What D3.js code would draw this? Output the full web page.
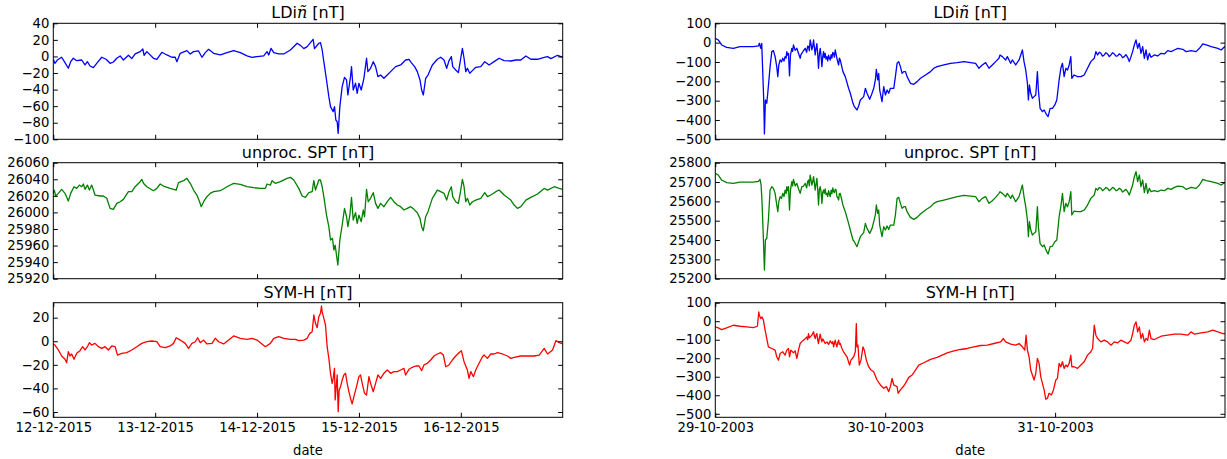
<!DOCTYPE html>
<html>
<head>
<meta charset="utf-8">
<script src="https://cdn.jsdelivr.net/npm/d3@7"></script>
<style>
  body { margin: 0; background: #fff; }
  svg { display: block; }
  text { font-family: "DejaVu Sans", sans-serif; fill: #000; }
</style>
</head>
<body>
<svg id="chart" width="1227" height="459"></svg>
<script>
// ---- Time windows (storm periods) ----
const start2015 = Date.UTC(2015, 11, 12);
const start2003 = Date.UTC(2003, 9, 29);
const days2015 = 5;
const days2003 = 3;

// ---- Panel titles ----
const titleLdi = "LDi";
const titleSpt = "unproc. SPT [nT]";
const titleSym = "SYM-H [nT]";
const xLabel = "date";

// ---- Y ranges and tick values ----
const yRangeLdi2015 = [-100, 40];
const yRangeSpt2015 = [25920, 26060];
const yRangeSym2015 = [-64.5, 32.7];
const yRangeLdi2003 = [-500, 100];
const yRangeSpt2003 = [25200, 25800];
const yRangeSym2003 = [-519, 100];

const yTicksLdi2015 = [-100, -80, -60, -40, -20, 0, 20, 40];
const yTicksSpt2015 = [25920, 25940, 25960, 25980, 26000, 26020, 26040, 26060];
const yTicksSym2015 = [-60, -40, -20, 0, 20];
const yTicksLdi2003 = [-500, -400, -300, -200, -100, 0, 100];
const yTicksSpt2003 = [25200, 25300, 25400, 25500, 25600, 25700, 25800];
const yTicksSym2003 = [-500, -400, -300, -200, -100, 0, 100];

// ---- Series: [hours since window start, nT] ----
const ldi2015 = [[0,-3.4],[0.39,-8.3],[0.94,-4.3],[1.97,-1.0],[2.75,-7.5],[3.54,-14.3],[4.1,-6.3],[4.72,-2.2],[5.51,-5.1],[6.69,-4.3],[7.47,-10.3],[8.03,-6.3],[8.65,-11.5],[9.44,-13.5],[10.23,-8.3],[11.41,-1.0],[12.43,-3.4],[13.38,-8.3],[14.16,-6.7],[14.95,-2.2],[15.74,0.6],[16.52,-4.3],[17.7,1.4],[18.49,-2.6],[19.28,3.0],[20.46,5.8],[21.09,9.0],[21.4,1.4],[22.03,5.8],[23.6,-2.2],[24.39,-3.4],[25.57,5.0],[26.75,1.8],[27.93,-1.0],[28.72,-1.0],[29.11,-6.3],[29.9,3.8],[31.47,7.0],[32.26,3.0],[33.04,5.8],[34.22,6.6],[35.01,-1.0],[35.8,4.6],[36.59,8.6],[37.77,3.8],[39.34,1.8],[40.91,4.6],[42.49,7.0],[44.06,4.6],[45.63,0.6],[46.81,-1.0],[47.99,-0.2],[49.57,0.6],[50.35,5.8],[50.75,1.8],[51.3,9.8],[51.93,4.6],[53.11,3.0],[54.29,3.0],[55.86,7.8],[57.44,15.9],[58.22,13.4],[59.01,9.4],[59.8,11.8],[61.21,20.7],[61.53,9.4],[62.55,15.9],[62.94,16.7],[63.33,7.8],[63.73,-6.3],[64.36,-28.4],[64.91,-48.5],[65.3,-60.6],[65.93,-66.6],[66.24,-60.6],[66.56,-76.7],[66.87,-78.7],[67.11,-92.8],[67.5,-60.6],[68.05,-36.4],[68.6,-25.2],[69.08,-28.4],[69.39,-46.5],[70.02,-24.4],[70.25,-12.3],[70.65,-40.5],[71.2,-32.4],[71.59,-44.5],[71.99,-32.4],[72.54,-40.5],[73.17,-26.4],[73.79,-2.2],[74.11,-18.3],[74.74,-14.3],[75.37,-6.3],[75.92,-12.3],[76.47,-24.4],[77.1,-22.4],[77.88,-26.4],[78.67,-22.4],[79.46,-18.3],[80.64,-12.3],[81.82,-10.3],[83.0,-4.3],[83.78,-3.4],[84.33,-7.5],[85.12,-12.3],[85.75,-18.3],[86.38,-28.4],[86.77,-40.5],[87.17,-46.5],[87.72,-26.4],[88.27,-22.4],[89.29,-10.3],[90.47,-3.4],[91.26,-1.0],[92.04,-4.3],[92.67,-14.3],[93.22,-5.1],[93.77,-0.2],[94.09,-12.3],[94.8,-16.3],[95.43,-19.5],[95.98,-2.2],[96.37,9.8],[96.76,-2.2],[97.16,-18.3],[97.55,-14.3],[98.1,-20.3],[98.73,-17.1],[99.52,-13.1],[100.7,-12.3],[101.64,-6.3],[102.66,-10.3],[103.84,-6.3],[105.02,-2.2],[106.2,-5.1],[107.78,-5.5],[108.96,-4.3],[110.14,-4.3],[111.32,0.6],[112.5,-3.4],[114.07,-3.4],[115.64,-1.0],[116.43,-0.2],[117.22,-2.6],[118.79,1.4],[119.58,-0.2],[120,-1.0]];

const spt2015 = [[0,26023.0],[0.24,26027.0],[0.55,26019.8],[1.18,26023.0],[1.97,26027.8],[2.75,26023.0],[3.54,26013.7],[4.09,26023.0],[4.88,26031.0],[5.51,26029.0],[6.14,26033.0],[6.69,26031.0],[7.08,26034.3],[7.47,26027.8],[8.03,26033.0],[8.5,26027.0],[9.05,26033.0],[9.83,26021.0],[11.02,26019.8],[11.8,26019.8],[12.59,26017.0],[13.38,26004.9],[14.16,26003.7],[14.95,26010.9],[15.74,26012.9],[16.52,26015.7],[16.92,26019.0],[17.7,26025.0],[18.49,26025.0],[19.28,26031.0],[20.46,26037.1],[20.85,26039.9],[21.24,26035.1],[22.03,26031.0],[23.6,26026.2],[24.39,26029.0],[25.18,26034.3],[25.96,26031.8],[27.54,26029.0],[28.95,26027.0],[29.5,26035.9],[30.68,26038.3],[31.47,26041.1],[32.26,26035.1],[33.04,26027.0],[33.83,26021.0],[34.46,26012.9],[34.85,26006.9],[35.41,26012.9],[36.19,26019.0],[36.98,26023.0],[37.77,26025.0],[39.34,26026.2],[40.91,26031.0],[42.49,26035.1],[44.06,26033.9],[45.63,26031.0],[47.21,26029.8],[48.78,26029.0],[49.96,26029.0],[50.35,26034.3],[51.14,26033.0],[51.53,26038.3],[52.32,26035.1],[53.5,26037.1],[55.07,26041.1],[55.86,26042.3],[56.65,26039.1],[57.83,26029.0],[58.62,26019.8],[59.4,26018.2],[60.19,26023.8],[60.98,26025.0],[61.37,26038.3],[61.76,26027.0],[62.55,26039.1],[62.94,26039.1],[63.33,26031.0],[63.73,26019.0],[64.36,25996.8],[64.91,25982.8],[65.3,25966.7],[65.77,25968.7],[66.09,25954.6],[66.4,25960.6],[66.71,25948.6],[67.03,25936.5],[67.5,25966.7],[68.05,25984.8],[68.6,26004.9],[69.08,25994.8],[69.39,25982.8],[69.86,25996.8],[70.25,26018.2],[70.65,25990.8],[71.2,25999.7],[71.59,25986.8],[71.99,25996.8],[72.54,25988.8],[73.01,26002.9],[73.32,25994.8],[73.79,26027.8],[74.19,26012.9],[74.74,26017.0],[75.37,26023.8],[75.92,26010.9],[76.47,26004.9],[77.1,26010.9],[77.88,26006.9],[78.67,26012.9],[79.46,26018.2],[80.24,26012.9],[81.03,26008.9],[81.82,26006.9],[82.6,26002.9],[83.39,26004.9],[84.18,26006.9],[84.96,26003.7],[85.75,25999.7],[86.38,25992.8],[86.77,25982.8],[87.17,25977.9],[87.72,25994.8],[88.27,26000.9],[89.29,26017.0],[90.47,26027.0],[91.26,26025.0],[92.04,26023.0],[92.67,26014.9],[93.22,26025.0],[93.77,26031.0],[94.09,26019.0],[94.8,26012.9],[95.43,26010.9],[95.98,26027.0],[96.37,26039.9],[96.76,26031.0],[97.16,26012.9],[97.55,26017.0],[98.1,26008.9],[98.73,26012.9],[99.52,26014.9],[100.7,26017.0],[101.64,26023.8],[102.27,26019.0],[103.06,26021.0],[104.24,26025.0],[105.02,26027.0],[106.2,26021.0],[107.78,26014.9],[108.56,26008.9],[109.35,26004.9],[110.14,26006.9],[111.32,26014.9],[112.5,26018.2],[114.07,26022.2],[115.64,26029.0],[116.43,26027.0],[118.0,26031.0],[119.18,26029.0],[120,26027.8]];

const symh2015 = [[0,-2.3],[0.39,-3.2],[1.18,-7.4],[1.97,-12.5],[2.75,-15.3],[3.15,-18.2],[3.54,-8.8],[3.93,-12.5],[4.33,-10.8],[4.88,-15.3],[5.51,-10.2],[6.29,-8.0],[6.92,-4.6],[7.47,-7.4],[8.03,-4.6],[8.5,-1.2],[9.05,-3.2],[9.83,-1.8],[10.62,-4.6],[11.41,-6.0],[12.2,-4.6],[12.98,-7.4],[13.77,-4.0],[14.56,-4.6],[15.11,-11.7],[16.13,-10.2],[17.31,-9.7],[18.49,-7.4],[19.67,-4.6],[20.85,-1.8],[22.03,-0.4],[23.21,0.2],[24.39,-0.4],[25.18,-4.6],[26.36,-5.4],[27.54,-4.0],[28.32,-1.8],[28.95,3.0],[29.9,1.0],[31.07,-1.8],[31.86,-6.0],[32.65,-1.8],[33.44,-0.4],[33.99,3.0],[34.62,-1.2],[35.41,1.0],[36.19,-2.3],[37.37,-1.8],[38.16,2.5],[38.95,-0.4],[40.13,-2.3],[41.31,1.0],[42.49,4.5],[44.06,2.5],[45.63,1.6],[46.81,2.5],[47.99,1.0],[48.78,-1.2],[49.96,-4.6],[51.14,-1.8],[51.93,2.5],[53.11,3.9],[54.29,2.5],[55.86,1.6],[57.04,1.6],[57.83,0.5],[59.01,1.0],[59.8,2.5],[60.42,6.7],[60.98,8.1],[61.37,22.3],[61.76,15.2],[62.16,11.5],[62.55,20.8],[62.94,23.7],[63.18,29.9],[63.33,25.1],[63.73,19.4],[64.12,13.8],[64.51,-4.6],[64.91,-14.5],[65.3,-27.2],[65.69,-35.7],[65.93,-31.5],[66.24,-23.0],[66.4,-49.8],[66.64,-38.5],[66.87,-28.6],[67.11,-59.7],[67.34,-41.3],[67.66,-38.5],[68.05,-32.9],[68.45,-28.6],[68.84,-27.2],[69.23,-35.7],[69.63,-42.8],[70.02,-48.4],[70.41,-53.2],[70.81,-47.0],[71.43,-38.5],[71.99,-30.0],[72.38,-28.6],[72.77,-35.7],[73.32,-44.2],[73.79,-45.6],[74.35,-30.0],[74.74,-35.7],[75.37,-42.8],[75.92,-35.7],[76.47,-28.6],[77.1,-31.5],[77.88,-27.2],[78.67,-24.4],[79.46,-27.2],[80.24,-25.8],[81.03,-25.8],[81.82,-24.4],[82.6,-23.0],[83.0,-28.6],[83.78,-23.8],[84.57,-22.1],[85.36,-21.0],[86.14,-21.0],[86.77,-24.9],[87.32,-20.1],[88.11,-18.7],[88.9,-15.9],[89.68,-12.5],[90.47,-10.8],[91.26,-9.7],[91.89,-11.7],[92.44,-21.6],[93.22,-20.1],[94.01,-15.9],[94.8,-12.5],[95.58,-9.7],[96.13,-8.0],[96.76,-17.3],[97.55,-24.4],[97.94,-31.5],[98.34,-25.8],[98.97,-30.0],[99.52,-24.4],[100.3,-18.7],[101.09,-13.1],[101.48,-11.7],[102.27,-14.5],[103.06,-10.8],[103.84,-10.8],[104.63,-9.7],[105.81,-10.8],[106.99,-12.5],[107.78,-14.5],[108.56,-13.6],[110.14,-12.5],[111.71,-12.5],[113.28,-12.5],[114.46,-11.7],[115.64,-6.0],[116.43,-10.8],[117.61,-7.4],[118.4,0.5],[119.18,-1.2],[120,-2.3]];

const ldi2003 = [[0,22.4],[0.42,13.8],[0.9,-12.1],[1.6,-24.1],[2.55,-29.3],[3.49,-20.7],[4.44,-20.7],[5.38,-20.7],[6.09,-17.2],[6.23,-3.4],[6.42,-29.3],[6.56,-3.4],[6.7,-150],[6.84,-296.5],[6.94,-472.4],[7.08,-296.5],[7.27,-313.8],[7.41,-262],[7.74,-124.1],[7.98,-46.5],[8.21,-41.4],[8.45,-72.4],[8.68,-124.1],[8.83,-175.8],[8.97,-115.5],[9.16,-89.6],[9.35,-100],[9.53,-81],[9.7,-95],[9.86,-72.4],[10.0,-80],[10.1,-46.5],[10.22,-65],[10.34,-55.2],[10.48,-172.4],[10.62,-63.8],[10.81,-29.3],[10.92,-45],[11.04,-12.1],[11.28,-40],[11.52,-29.3],[11.75,-55],[11.99,-81],[12.1,-62],[12.22,-55.2],[12.45,-42],[12.7,-29.3],[12.9,-50],[13.05,-18],[13.17,-20.7],[13.28,-42],[13.4,13.8],[13.52,-8],[13.64,-37.9],[13.76,-20],[13.88,13.8],[14.0,-25],[14.11,-63.8],[14.23,-30],[14.35,-4.8],[14.46,-55],[14.58,-132.7],[14.7,-60],[14.82,-29.3],[14.94,-70],[15.06,-124.1],[15.17,-75],[15.29,-46.5],[15.4,-78],[15.52,-55],[15.64,-85],[15.76,-72.4],[15.88,-95],[16.0,-65],[16.12,-82],[16.24,-89.6],[16.36,-62],[16.47,-80],[16.6,-50],[16.71,-55.2],[16.82,-75],[16.94,-37.9],[17.06,-60],[17.18,-81],[17.3,-100],[17.42,-115.5],[17.53,-80],[17.65,-89.6],[18.03,-150],[18.36,-175.8],[18.83,-236.2],[19.07,-262],[19.45,-313.8],[19.64,-331],[20.01,-348.2],[20.25,-327.6],[20.49,-296.5],[20.96,-279.3],[21.2,-236.2],[21.43,-262],[21.81,-293.1],[22.14,-262],[22.38,-236.2],[22.61,-193.1],[22.75,-137.9],[22.94,-193.1],[23.08,-158.6],[23.22,-244.8],[23.55,-305.1],[23.79,-227.6],[24.03,-270.7],[24.26,-244.8],[24.5,-262],[24.73,-236.2],[25.21,-236.2],[25.44,-175.8],[25.68,-106.9],[25.91,-98.3],[26.15,-124.1],[26.39,-158.6],[26.62,-150],[26.86,-150],[27.09,-175.8],[27.56,-210.3],[28.04,-215.5],[28.51,-201.7],[28.98,-184.5],[29.69,-167.2],[30.4,-150],[30.87,-132.7],[31.34,-124.1],[32.29,-115.5],[33.23,-106.9],[34.17,-103.4],[35.12,-98.3],[36.06,-103.4],[36.77,-106.9],[37.24,-132.7],[37.71,-115.5],[38.19,-103.4],[38.66,-132.7],[39.13,-115.5],[39.6,-98.3],[40.07,-81],[40.22,-63.8],[40.55,-72.4],[41.02,-89.6],[41.25,-72.4],[41.73,-106.9],[41.96,-89.6],[42.43,-115.5],[42.91,-89.6],[43.38,-37.9],[43.61,-98.3],[43.85,-141.4],[44.09,-210.3],[44.23,-296.5],[44.37,-219],[44.56,-262],[44.79,-287.9],[45.03,-279.3],[45.27,-270.7],[45.5,-150],[45.64,-244.8],[45.88,-339.6],[46.21,-356.9],[46.45,-348.2],[46.82,-374.1],[47.01,-382.7],[47.3,-339.6],[47.63,-339.6],[47.96,-322.4],[48.24,-296.5],[48.57,-193.1],[48.81,-132.7],[49.04,-106.9],[49.28,-175.8],[49.51,-132.7],[49.75,-141.4],[49.99,-115.5],[50.22,-72.4],[50.36,-184.5],[50.69,-167.2],[51.17,-175.8],[51.64,-175.8],[52.11,-167.2],[52.58,-132.7],[53.05,-98.3],[53.53,-81],[53.76,-46.5],[54.0,-63.8],[54.24,-50],[54.47,-55.2],[54.7,-70],[54.94,-63.8],[55.18,-52],[55.41,-58.6],[55.65,-72],[55.89,-63.8],[56.12,-52],[56.36,-58.6],[56.6,-70],[56.83,-69],[57.06,-58],[57.3,-63.8],[57.53,-78],[57.77,-72.4],[58.0,-62],[58.25,-75.8],[58.48,-98.3],[58.72,-72.4],[58.95,-46.5],[59.19,-12.1],[59.43,13.8],[59.66,-29.3],[59.9,-3.4],[60.13,-55.2],[60.37,-20.7],[60.61,-81],[60.84,-37.9],[61.08,-89.6],[61.31,-55.2],[61.55,-75.8],[62.02,-63.8],[62.49,-69],[62.97,-55.2],[63.44,-58.6],[63.91,-41.4],[64.38,-46.5],[64.85,-37.9],[65.33,-29.3],[66.03,-34.5],[66.51,-46.5],[67.21,-41.4],[67.92,-46.5],[68.39,-29.3],[68.87,-6.9],[69.34,-12.1],[70.05,-20.7],[70.99,-29.3],[71.46,-37.9],[71.94,-20.7],[72.17,-24.1]];

const spt2003 = [[0,25744.8],[0.42,25736.2],[0.9,25710.4],[1.6,25696.6],[2.55,25693.1],[3.49,25700],[4.44,25700],[5.38,25700],[6.09,25703.5],[6.32,25713.8],[6.47,25684.5],[6.61,25589.7],[6.8,25400],[6.94,25244.9],[7.08,25400],[7.27,25408.6],[7.5,25503.5],[7.74,25658.6],[7.98,25675.9],[8.21,25667.3],[8.45,25641.4],[8.68,25581.1],[8.83,25546.6],[8.97,25598.3],[9.16,25624.2],[9.35,25615],[9.53,25641.4],[9.7,25625],[9.86,25658.6],[10.0,25640],[10.1,25675.9],[10.22,25655],[10.34,25675.9],[10.48,25555.2],[10.62,25658.6],[10.81,25701.7],[10.92,25680],[11.04,25713.8],[11.28,25680],[11.52,25693.1],[11.75,25665],[11.99,25641.4],[12.1,25658],[12.22,25675.9],[12.45,25678],[12.7,25693.1],[12.9,25670],[13.05,25702],[13.17,25710.4],[13.28,25680],[13.4,25736.2],[13.52,25712],[13.64,25684.5],[13.76,25700],[13.88,25727.6],[14.0,25695],[14.11,25658.6],[14.23,25690],[14.35,25719],[14.46,25665],[14.58,25581.1],[14.7,25660],[14.82,25675.9],[14.94,25650],[15.06,25589.7],[15.17,25645],[15.29,25658.6],[15.4,25642],[15.52,25665],[15.64,25635],[15.76,25641.4],[15.88,25625],[16.0,25655],[16.12,25638],[16.24,25624.2],[16.36,25658],[16.47,25640],[16.6,25670],[16.71,25650],[16.82,25645],[16.94,25662.1],[17.06,25660],[17.18,25624.2],[17.3,25620],[17.42,25606.9],[17.53,25640],[17.65,25641.4],[18.03,25581.1],[18.36,25546.6],[18.83,25486.2],[19.07,25451.8],[19.45,25400],[19.64,25391.4],[20.01,25365.6],[20.25,25391.4],[20.49,25417.3],[20.96,25438],[21.2,25486.2],[21.43,25460.4],[21.81,25434.5],[22.14,25460.4],[22.38,25494.9],[22.61,25529.3],[22.75,25581.1],[22.94,25537.9],[23.08,25555.2],[23.22,25477.6],[23.55,25417.3],[23.79,25469],[24.03,25451.8],[24.26,25472.4],[24.5,25455.2],[24.73,25477.6],[25.21,25477.6],[25.44,25529.3],[25.68,25615.5],[25.91,25620.7],[26.15,25589.7],[26.39,25563.8],[26.62,25572.4],[26.86,25572.4],[27.09,25546.6],[27.56,25517.3],[28.04,25506.9],[28.51,25517.3],[28.98,25534.5],[29.69,25555.2],[30.4,25572.4],[30.87,25589.7],[31.34,25598.3],[32.29,25606.9],[33.23,25615.5],[34.17,25624.2],[35.12,25631.0],[36.06,25627.6],[36.77,25624.2],[37.24,25598.3],[37.71,25615.5],[38.19,25624.2],[38.66,25589.7],[39.13,25603.5],[39.6,25620.7],[40.07,25641.4],[40.22,25650],[40.55,25641.4],[41.02,25624.2],[41.25,25641.4],[41.73,25615.5],[41.96,25632.8],[42.43,25598.3],[42.91,25624.2],[43.38,25684.5],[43.61,25624.2],[43.85,25572.4],[44.09,25503.5],[44.23,25417.3],[44.37,25494.9],[44.56,25451.8],[44.79,25425.9],[45.03,25434.5],[45.27,25443.1],[45.5,25572.4],[45.64,25469],[45.88,25382.8],[46.21,25365.6],[46.45,25374.2],[46.82,25339.7],[47.01,25327.6],[47.3,25365.6],[47.63,25369],[47.96,25391.4],[48.24,25400],[48.57,25520.7],[48.81,25572.4],[49.04,25641.4],[49.28,25546.6],[49.51,25589.7],[49.75,25572.4],[49.99,25598.3],[50.22,25650],[50.36,25529.3],[50.69,25550],[51.17,25546.6],[51.64,25546.6],[52.11,25555.2],[52.58,25581.1],[53.05,25615.5],[53.53,25632.8],[53.76,25667.3],[54.0,25658.6],[54.24,25672],[54.47,25667.3],[54.7,25655],[54.94,25662.1],[55.18,25672],[55.41,25667.3],[55.65,25655],[55.89,25662.1],[56.12,25672],[56.36,25667.3],[56.6,25655],[56.83,25658.6],[57.06,25668],[57.3,25662.1],[57.53,25648],[57.77,25655.2],[58.0,25662],[58.25,25650],[58.48,25632.8],[58.72,25658.6],[58.95,25684.5],[59.19,25727.6],[59.43,25753.5],[59.66,25701.7],[59.9,25736.2],[60.13,25675.9],[60.37,25710.4],[60.61,25644.8],[60.84,25693.1],[61.08,25641.4],[61.31,25667.3],[61.55,25650],[62.02,25655.2],[62.49,25650],[62.97,25658.6],[63.44,25655.2],[63.91,25667.3],[64.38,25662.1],[64.85,25672.4],[65.33,25679.3],[66.03,25675.9],[66.51,25662.1],[67.21,25672.4],[67.92,25667.3],[68.39,25684.5],[68.87,25713.8],[69.34,25706.9],[70.05,25701.7],[70.99,25693.1],[71.46,25684.5],[71.94,25696.6],[72.17,25693.1]];

const symh2003 = [[0,-30.8],[0.42,-36.2],[0.9,-45.2],[1.6,-36.2],[2.55,-21.9],[3.49,-27.2],[4.44,-30.8],[5.38,-34.4],[5.95,-27.2],[6.14,49.8],[6.23,31.9],[6.42,14.0],[6.61,22.9],[6.8,5.0],[7.04,-48.7],[7.27,-93.5],[7.5,-138.3],[7.98,-147.3],[8.45,-156.3],[8.68,-192.1],[8.92,-210],[9.16,-174.2],[9.53,-165.2],[9.86,-183.1],[10.1,-156.3],[10.34,-147.3],[10.48,-192.1],[10.67,-156.3],[11.04,-170.6],[11.28,-159.8],[11.52,-201.1],[11.75,-156.3],[11.99,-120.4],[12.22,-110],[12.46,-102.5],[12.7,-95],[12.93,-84.6],[13.05,-100],[13.17,-66.7],[13.28,-90],[13.4,-84.6],[13.64,-75],[13.88,-57.7],[14.0,-80],[14.11,-93.5],[14.23,-75],[14.35,-66.7],[14.46,-100],[14.58,-120.4],[14.7,-90],[14.82,-70.2],[14.94,-95],[15.06,-111.5],[15.17,-95],[15.29,-102.5],[15.52,-120],[15.76,-111.5],[16.0,-125],[16.24,-106.1],[16.47,-120.4],[16.6,-110],[16.71,-138.3],[16.82,-120],[16.94,-102.5],[17.06,-125],[17.18,-138.3],[17.3,-115],[17.42,-102.5],[17.53,-125],[17.65,-120.4],[17.89,-147.3],[18.12,-165.2],[18.6,-192.1],[18.97,-236.9],[19.16,-210],[19.54,-192.1],[19.78,-165.2],[19.92,-12.9],[20.01,-138.3],[20.15,-129.4],[20.34,-236.9],[20.58,-210],[20.86,-138.3],[21.05,-156.3],[21.33,-210],[21.66,-245.9],[21.99,-263.8],[22.37,-272.7],[22.85,-317.5],[23.32,-344.4],[23.79,-362.3],[24.17,-353.4],[24.5,-380.3],[24.73,-353.4],[24.97,-308.6],[25.21,-344.4],[25.68,-353.4],[25.82,-389.2],[26.15,-371.3],[26.62,-349.8],[26.86,-335.5],[27.33,-303.2],[27.8,-290.7],[28.27,-263.8],[28.74,-236.9],[29.45,-224.4],[30.4,-206.4],[31.34,-195.7],[32.05,-183.1],[32.76,-170.6],[33.7,-159.8],[34.65,-152.7],[35.59,-147.3],[36.53,-138.3],[37.48,-131.2],[38.42,-129.4],[39.37,-120.4],[40.31,-111.5],[40.69,-93.5],[41.02,-111.5],[41.73,-124],[42.43,-129.4],[42.91,-120.4],[43.38,-138.3],[43.71,-156.3],[43.9,-75.6],[44.09,-156.3],[44.32,-192.1],[44.56,-263.8],[44.79,-290.7],[45.03,-317.5],[45.27,-281.7],[45.5,-201.1],[45.74,-227.9],[45.97,-299.6],[46.21,-335.5],[46.45,-371.3],[46.68,-421.5],[46.92,-416.1],[47.15,-389.2],[47.48,-398.2],[47.77,-371.3],[48.1,-317.5],[48.33,-308.6],[48.57,-227.9],[48.81,-245.9],[49.04,-219],[49.28,-254.8],[49.51,-236.9],[49.75,-245.9],[49.99,-227.9],[50.22,-183.1],[50.36,-245.9],[50.69,-245.9],[51.17,-254.8],[51.64,-236.9],[52.11,-219],[52.58,-183.1],[53.05,-165.2],[53.29,-147.3],[53.53,-21.9],[53.76,-75.6],[54.0,-93.5],[54.47,-111.5],[54.94,-102.5],[55.41,-111.5],[55.89,-129.4],[56.36,-111.5],[56.83,-116.8],[57.3,-102.5],[57.77,-111.5],[58.25,-120.4],[58.72,-102.5],[58.95,-66.7],[59.19,-21.9],[59.43,-3.9],[59.66,-57.7],[59.9,-30.8],[60.13,-93.5],[60.37,-66.7],[60.61,-111.5],[60.84,-93.5],[61.08,-102.5],[61.31,-48.7],[61.55,-93.5],[62.02,-98.9],[62.97,-81],[63.91,-75.6],[64.85,-70.2],[65.8,-70.2],[66.74,-75.6],[67.21,-57.7],[67.69,-70.2],[68.63,-63.1],[69.57,-57.7],[70.28,-48.7],[70.99,-57.7],[71.69,-66.7],[72.17,-66.7]];

// ---- Layout ----
const svg = d3.select("#chart");
const columns = [
  { left: 53.3, width: 509.4, start: start2015, days: days2015 },
  { left: 715.3, width: 509.7, start: start2003, days: days2003 }
];
const rows = [
  { top: 23.3, height: 116 },
  { top: 162.7, height: 116 },
  { top: 302.7, height: 114.6 }
];
const tickLen = 4.5;
const HOUR = 3600 * 1000;

const panels = [
  { col: 0, row: 0, data: ldi2015, range: yRangeLdi2015, ticks: yTicksLdi2015, color: "#0000ff", title: "ldi" },
  { col: 0, row: 1, data: spt2015, range: yRangeSpt2015, ticks: yTicksSpt2015, color: "#008000", title: titleSpt },
  { col: 0, row: 2, data: symh2015, range: yRangeSym2015, ticks: yTicksSym2015, color: "#ff0000", title: titleSym },
  { col: 1, row: 0, data: ldi2003, range: yRangeLdi2003, ticks: yTicksLdi2003, color: "#0000ff", title: "ldi" },
  { col: 1, row: 1, data: spt2003, range: yRangeSpt2003, ticks: yTicksSpt2003, color: "#008000", title: titleSpt },
  { col: 1, row: 2, data: symh2003, range: yRangeSym2003, ticks: yTicksSym2003, color: "#ff0000", title: titleSym }
];

const fmtDate = d3.utcFormat("%d-%m-%Y");

panels.forEach((p, i) => {
  const c = columns[p.col], r = rows[p.row];
  const g = svg.append("g").attr("transform", `translate(${c.left},${r.top})`);
  const x = d3.scaleUtc()
    .domain([new Date(c.start), new Date(c.start + c.days * 24 * HOUR)])
    .range([0, c.width]);
  const y = d3.scaleLinear().domain(p.range).range([r.height, 0]);
  const dayTicks = d3.range(c.days).map(k => new Date(c.start + k * 24 * HOUR));

  const clipId = "clip" + i;
  g.append("clipPath").attr("id", clipId)
    .append("rect").attr("width", c.width).attr("height", r.height);

  const line = d3.line()
    .x(d => x(new Date(c.start + d[0] * HOUR)))
    .y(d => y(d[1]));

  g.append("path")
    .datum(p.data)
    .attr("clip-path", `url(#${clipId})`)
    .attr("fill", "none")
    .attr("stroke", p.color)
    .attr("stroke-width", 1.3)
    .attr("stroke-linejoin", "round")
    .attr("d", line);

  // Inward ticks on all four sides
  const styleAxis = sel => {
    sel.select(".domain").remove();
    sel.selectAll(".tick line").attr("stroke", "#000").attr("stroke-width", 1);
    sel.selectAll(".tick text")
      .attr("fill", "#000")
      .style("font-family", '"DejaVu Sans", sans-serif')
      .style("font-size", "13.2px");
  };

  g.append("g")
    .call(d3.axisLeft(y).tickValues(p.ticks).tickSize(-tickLen).tickPadding(4)
      .tickFormat(d3.format("d")))
    .call(styleAxis);
  g.append("g").attr("transform", `translate(${c.width},0)`)
    .call(d3.axisRight(y).tickValues(p.ticks).tickSize(-tickLen).tickFormat(""))
    .call(styleAxis);
  g.append("g")
    .call(d3.axisTop(x).tickValues(dayTicks).tickSize(-tickLen).tickFormat(""))
    .call(styleAxis);
  const bottom = d3.axisBottom(x).tickValues(dayTicks).tickSize(-tickLen).tickPadding(5.5)
    .tickFormat(p.row === 2 ? fmtDate : "");
  g.append("g").attr("transform", `translate(0,${r.height})`)
    .call(bottom)
    .call(styleAxis);

  // Frame
  g.append("rect")
    .attr("width", c.width).attr("height", r.height)
    .attr("fill", "none").attr("stroke", "#000").attr("stroke-width", 1);

  // Title
  const t = g.append("text")
    .attr("x", c.width / 2).attr("y", -5)
    .attr("text-anchor", "middle")
    .style("font-size", "16px");
  if (p.title === "ldi") {
    t.append("tspan").text(titleLdi);
    t.append("tspan")
      .style("font-family", '"DejaVu Serif", serif')
      .style("font-style", "italic")
      .text("\u00f1");
    t.append("tspan").text(" [nT]");
  } else {
    t.text(p.title);
  }

  if (p.row === 2) {
    g.append("text")
      .attr("x", c.width / 2).attr("y", r.height + 37.5)
      .attr("text-anchor", "middle")
      .style("font-size", "13.2px")
      .text(xLabel);
  }
});
</script>
</body>
</html>
